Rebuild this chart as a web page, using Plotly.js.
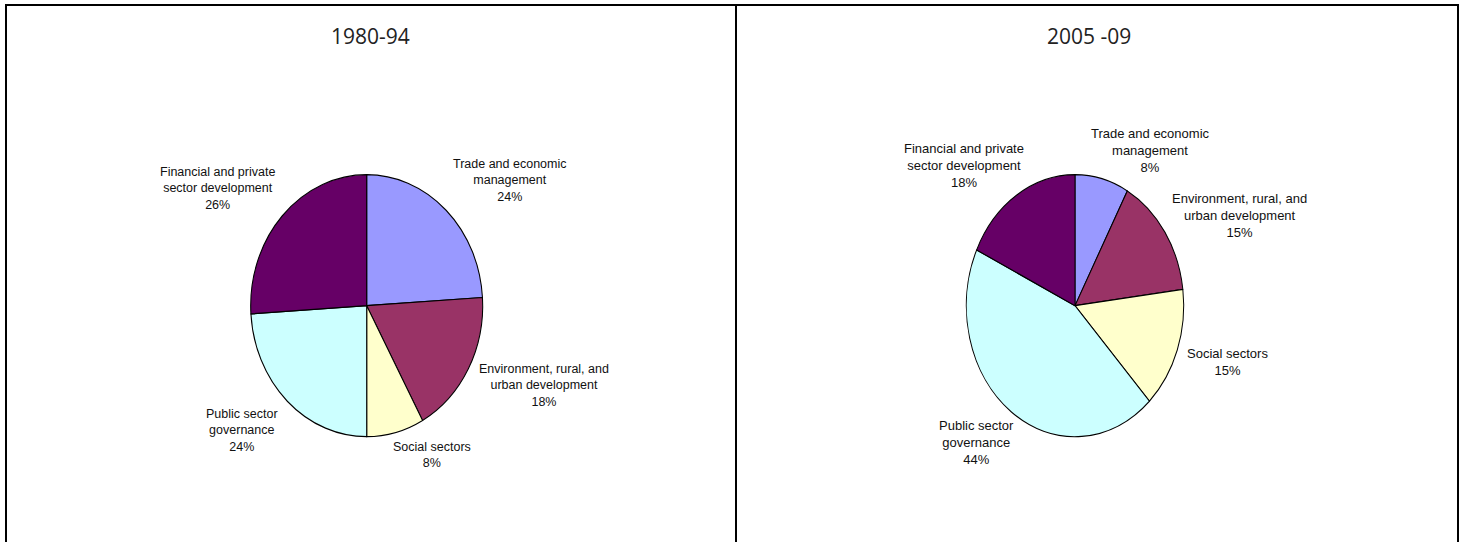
<!DOCTYPE html>
<html>
<head>
<meta charset="utf-8">
<script src="https://cdn.plot.ly/plotly-3.0.1.min.js"></script>
<style>
  html, body { margin: 0; padding: 0; background: #fff; }
  #chart { width: 1466px; height: 542px; }
</style>
</head>
<body>
<div id="chart"></div>
<script>
// ---- data ----
const categories = [
  "Trade and economic management",
  "Environment, rural, and urban development",
  "Social sectors",
  "Public sector governance",
  "Financial and private sector development"
];
const labelText = [
  "Trade and economic<br>management",
  "Environment, rural, and<br>urban development",
  "Social sectors",
  "Public sector<br>governance",
  "Financial and private<br>sector development"
];
const values1980 = [24, 18, 8, 24, 26];
const values2005 = [8, 15, 15, 44, 18];
const panelTitles = ["1980-94", "2005 -09"];
const colors = ["#9999FF", "#993366", "#FFFFCC", "#CCFFFF", "#660066"];

// ---- layout helpers (pixel -> paper) ----
const W = 1466, H = 542;
const px = x => x / W;
const py = y => 1 - y / H;

const pies = [
  { cx: 366.7, cy: 305.7, r: 131, sx: 116 / 131, values: values1980 },
  { cx: 1075, cy: 305.7, r: 131, sx: 108.7 / 131, values: values2005 }
];

const traces = pies.map(p => ({
  type: "pie",
  labels: categories,
  values: p.values,
  sort: false,
  direction: "clockwise",
  rotation: 0,
  textinfo: "none",
  hoverinfo: "none",
  showlegend: false,
  marker: { colors: colors, line: { color: "#000", width: 1.2 } },
  domain: { x: [px(p.cx - p.r), px(p.cx + p.r)], y: [py(p.cy + p.r), py(p.cy - p.r)] }
}));

// label positions (pixel centres) for each pie, in category order
const labelPos = [
  [[510, 180.5], [544, 385], [431.5, 454.5], [242, 430.5], [217, 188.8]],
  [[1150, 150], [1239, 215.5], [1227.5, 361.7], [976, 442.7], [964, 165.5]]
];
const labelSize = [12.5, 13];
const titlePos = [[370.5, 36], [1089, 36]];

const annotations = [];
pies.forEach((p, i) => {
  const total = p.values.reduce((a, b) => a + b, 0);
  p.values.forEach((v, k) => {
    annotations.push({
      xref: "paper", yref: "paper",
      x: px(labelPos[i][k][0]), y: py(labelPos[i][k][1]),
      xanchor: "center", yanchor: "middle",
      text: labelText[k] + "<br>" + Math.round(100 * v / total) + "%",
      showarrow: false, align: "center",
      font: { family: "Liberation Sans, Arial, sans-serif", size: labelSize[i], color: "#111" }
    });
  });
  annotations.push({
    xref: "paper", yref: "paper",
    x: px(titlePos[i][0]), y: py(titlePos[i][1]),
    xanchor: "center", yanchor: "middle",
    text: panelTitles[i], showarrow: false,
    font: { family: "Open Sans, sans-serif", size: 21, color: "#222" }
  });
});

const line = (x0, y0, x1, y1) => ({
  type: "line", xref: "paper", yref: "paper",
  x0: px(x0), y0: py(y0), x1: px(x1), y1: py(y1),
  line: { color: "#000", width: 2 }
});
const shapes = [
  line(5, 5, 1459, 5),
  line(6, 5, 6, 545),
  line(736, 5, 736, 545),
  line(1458, 5, 1458, 545)
];

const layout = {
  width: W, height: H,
  margin: { l: 0, r: 0, t: 0, b: 0 },
  paper_bgcolor: "#fff",
  plot_bgcolor: "#fff",
  showlegend: false,
  annotations: annotations,
  shapes: shapes
};

Plotly.newPlot("chart", traces, layout, { staticPlot: true, displayModeBar: false }).then(gd => {
  // the reference pies are slightly elliptical: squeeze horizontally about each centre
  const groups = gd.querySelectorAll(".pielayer .trace");
  groups.forEach((g, i) => {
    const p = pies[i];
    g.setAttribute("transform",
      "translate(" + p.cx + ",0) scale(" + p.sx + ",1) translate(" + (-p.cx) + ",0)");
  });
});
</script>
</body>
</html>
